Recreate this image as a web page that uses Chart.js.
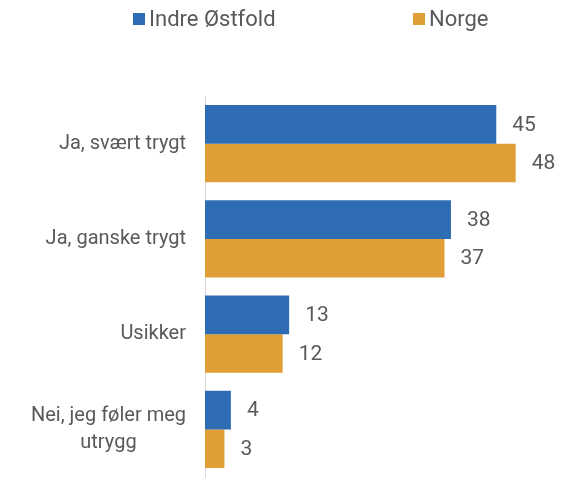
<!DOCTYPE html>
<html>
<head>
<meta charset="utf-8">
<script src="https://cdn.jsdelivr.net/npm/chart.js@4/dist/chart.umd.min.js"></script>
<style>
  html, body { margin: 0; padding: 0; background: #fff; }
  #wrap { width: 565px; height: 481px; position: relative; }
</style>
</head>
<body>
<div id="wrap"><canvas id="chart"></canvas></div>
<script>
const categories = [
  'Ja, svært trygt',
  'Ja, ganske trygt',
  'Usikker',
  ['Nei, jeg føler meg', 'utrygg']
];
const seriesNames = ['Indre Østfold', 'Norge'];
const indreOstfold = [45, 38, 13, 4];
const norge = [48, 37, 12, 3];

const colors = ['#2e6db4', '#e09e36'];
const textColor = '#595959';
const fontFamily = 'Roboto, "Liberation Sans", sans-serif';

// category labels: single lines right-aligned, wrapped labels centred as a block
const categoryLabels = {
  id: 'categoryLabels',
  afterDraw(chart) {
    const ctx = chart.ctx;
    const y = chart.scales.y;
    const right = chart.chartArea.left - 19;
    const lineH = 27;
    ctx.save();
    ctx.font = '20px ' + fontFamily;
    ctx.fillStyle = textColor;
    ctx.textBaseline = 'middle';
    ctx.textAlign = 'center';
    chart.data.labels.forEach((lab, i) => {
      const lines = Array.isArray(lab) ? lab : [lab];
      const w = Math.max(...lines.map(l => ctx.measureText(l).width));
      const cx = right - w / 2;
      const cy = y.getPixelForTick(i);
      lines.forEach((l, k) => {
        ctx.fillText(l, cx, cy + (k - (lines.length - 1) / 2) * lineH);
      });
    });
    ctx.restore();
  }
};

// value labels to the right of each bar
const valueLabels = {
  id: 'valueLabels',
  afterDatasetsDraw(chart) {
    const ctx = chart.ctx;
    ctx.save();
    ctx.font = '21px ' + fontFamily;
    ctx.fillStyle = textColor;
    ctx.textBaseline = 'middle';
    ctx.textAlign = 'left';
    chart.data.datasets.forEach((ds, d) => {
      chart.getDatasetMeta(d).data.forEach((bar, i) => {
        ctx.fillText(String(ds.data[i]), bar.x + 16, bar.y + 1);
      });
    });
    ctx.restore();
  }
};

// legend row across the top
const topLegend = {
  id: 'topLegend',
  afterDraw(chart) {
    const ctx = chart.ctx;
    const xs = [133, 413];
    ctx.save();
    ctx.font = '22px ' + fontFamily;
    ctx.textBaseline = 'middle';
    ctx.textAlign = 'left';
    chart.data.datasets.forEach((ds, d) => {
      ctx.fillStyle = ds.backgroundColor;
      ctx.fillRect(xs[d], 13, 12, 12);
      ctx.fillStyle = textColor;
      ctx.fillText(ds.label, xs[d] + 16, 20);
    });
    ctx.restore();
  }
};

new Chart(document.getElementById('chart'), {
  type: 'bar',
  data: {
    labels: categories,
    datasets: [
      { label: seriesNames[0], data: indreOstfold, backgroundColor: colors[0] },
      { label: seriesNames[1], data: norge, backgroundColor: colors[1] }
    ]
  },
  options: {
    indexAxis: 'y',
    responsive: true,
    maintainAspectRatio: false,
    animation: false,
    layout: { padding: { top: 96, right: 4, bottom: 4, left: 0 } },
    datasets: { bar: { categoryPercentage: 0.81, barPercentage: 1.0 } },
    scales: {
      x: { min: 0, max: 55, display: false },
      y: {
        ticks: { display: false },
        grid: { display: false },
        border: { display: true, color: '#d9d9d9', width: 1 },
        afterFit(scale) { scale.width = 205; }
      }
    },
    plugins: {
      legend: { display: false },
      tooltip: { enabled: false }
    }
  },
  plugins: [categoryLabels, valueLabels, topLegend]
});
</script>
</body>
</html>
